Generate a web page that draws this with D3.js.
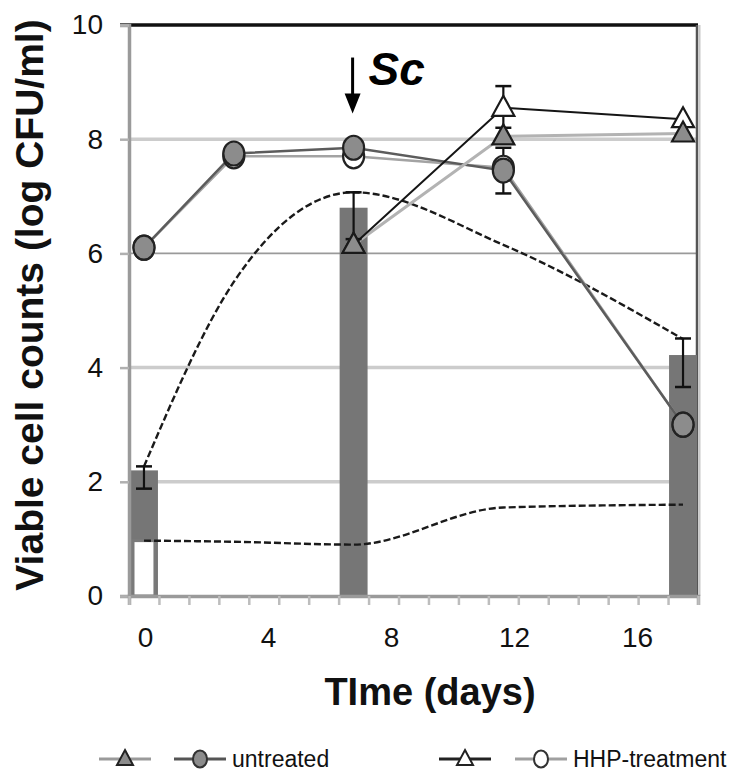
<!DOCTYPE html>
<html>
<head>
<meta charset="utf-8">
<script src="https://cdn.jsdelivr.net/npm/d3@7"></script>
<style>
    body { margin: 0; background: #fff; }
    svg { display: block; font-family: "Liberation Sans", Arial, sans-serif; }
</style>
</head>
<body>
<div id="chart"></div>
<script>
// time points (days)
const days = [0, 3, 7, 12, 18];
const untreatedCircle = [6.1, 7.75, 7.85, 7.45, 3.0];
const hhpCircle = [6.1, 7.7, 7.7, 7.5, 3.0];

const triDays = [7, 12, 18];
const untreatedTri = [6.15, 8.05, 8.1];
const hhpTri = [6.15, 8.55, 8.35];

// bars
const barDays = [0, 7, 18];
const barValues = [2.2, 6.8, 4.22];
const barErrLow = [1.88, 6.25, 3.66];
const barErrHigh = [2.27, 7.07, 4.51];
const openBarDays = [0];
const openBarValues = [0.97];

// error bars on line points (day 12)
const pointErrDays = [12, 12];
const pointErrLow = [8.2, 7.05];
const pointErrHigh = [8.93, 7.85];

// dashed smooth curves
const curveDays = [0, 3, 7, 12, 18];
const upperCurve = [2.27, 5.5, 7.07, 6.15, 4.5];
const lowerCurve = [0.97, 0.95, 0.9, 1.55, 1.6];

const yTicks = [0, 2, 4, 6, 8, 10];
const xTickLabels = [0, 4, 8, 12, 16];

document.addEventListener("DOMContentLoaded", function() {
    const width = 741;
    const height = 773;

    const svg = d3.select("#chart")
        .append("svg")
        .attr("width", width)
        .attr("height", height);

    const x = d3.scaleLinear().domain([-0.5, 18.5]).range([129, 698]);
    const xLabel = d3.scaleLinear().domain([0, 16]).range([145, 637]);
    const y = d3.scaleLinear().domain([0, 10]).range([596, 25]);

    drawFrame(svg, x, y);
    drawBars(svg, x, y);
    drawCurves(svg, x, y);
    drawSeries(svg, x, y);
    drawAxes(svg, x, xLabel, y);
    drawAnnotation(svg, x, y);
    drawLegend(svg);
});

function drawFrame(svg, x, y) {
    const grid = svg.append("g").attr("class", "grid");
    grid.selectAll("line")
        .data([2, 4, 6, 8])
        .join("line")
        .attr("x1", x(-0.5))
        .attr("x2", x(18.5))
        .attr("y1", d => y(d))
        .attr("y2", d => y(d))
        .attr("stroke", d => d === 6 ? "#9a9a9a" : "#cccccc")
        .attr("stroke-width", d => d === 6 ? 1.6 : 3.5);

    // top border and right border
    svg.append("line")
        .attr("x1", x(-0.5) - 9).attr("x2", x(18.5))
        .attr("y1", y(10)).attr("y2", y(10))
        .attr("stroke", "#111").attr("stroke-width", 3.5);
    svg.append("line")
        .attr("x1", x(18.5) - 1).attr("x2", x(18.5) - 1)
        .attr("y1", y(10)).attr("y2", y(0))
        .attr("stroke", "#555").attr("stroke-width", 2.5);
    svg.append("line")
        .attr("x1", x(18.5) + 1.5).attr("x2", x(18.5) + 1.5)
        .attr("y1", y(10)).attr("y2", y(0))
        .attr("stroke", "#c8c8c8").attr("stroke-width", 2);
}

function drawBars(svg, x, y) {
    const bw = x(0.5) - x(-0.5) - 2;
    const bars = svg.append("g").attr("class", "bars");

    bars.selectAll("rect")
        .data(barDays.map((d, i) => ({ day: d, value: barValues[i] })))
        .join("rect")
        .attr("x", d => x(d.day) - bw / 2)
        .attr("width", bw)
        .attr("y", d => y(d.value))
        .attr("height", d => y(0) - y(d.value))
        .attr("fill", "#767676");

    bars.selectAll("rect.open")
        .data(openBarDays.map((d, i) => ({ day: d, value: openBarValues[i] })))
        .join("rect")
        .attr("class", "open")
        .attr("x", d => x(d.day) - bw / 2 + 3)
        .attr("width", bw - 6)
        .attr("y", d => y(d.value))
        .attr("height", d => y(0) - y(d.value))
        .attr("fill", "#fff")
        .attr("stroke", "#7a7a7a")
        .attr("stroke-width", 3);
}

function drawCurves(svg, x, y) {
    const line = d3.line()
        .x(d => x(d[0]))
        .y(d => y(d[1]))
        .curve(d3.curveMonotoneX);

    svg.append("g").attr("class", "curves")
        .selectAll("path")
        .data([
            curveDays.map((d, i) => [d, upperCurve[i]]),
            curveDays.map((d, i) => [d, lowerCurve[i]])
        ])
        .join("path")
        .attr("d", line)
        .attr("fill", "none")
        .attr("stroke", "#1a1a1a")
        .attr("stroke-width", 2.4)
        .attr("stroke-dasharray", "7,3");
}

function errorBar(g, x, y, day, lo, hi) {
    g.append("line")
        .attr("x1", x(day)).attr("x2", x(day))
        .attr("y1", y(lo)).attr("y2", y(hi))
        .attr("stroke", "#111").attr("stroke-width", 2.2);
    [lo, hi].forEach(v => {
        g.append("line")
            .attr("x1", x(day) - 8).attr("x2", x(day) + 8)
            .attr("y1", y(v)).attr("y2", y(v))
            .attr("stroke", "#111").attr("stroke-width", 2.5);
    });
}

function triPath(cx, cy) {
    return `M${cx},${cy - 12}L${cx + 11},${cy + 8}L${cx - 11},${cy + 8}Z`;
}

function drawSeries(svg, x, y) {
    const line = d3.line().x(d => x(d[0])).y(d => y(d[1]));
    const g = svg.append("g").attr("class", "series");

    const series = [
        { days: days, values: hhpCircle, line: "#a3a3a3", lw: 2.5, shape: "circle", fill: "#fff" },
        { days: days, values: untreatedCircle, line: "#5c5c5c", lw: 2.5, shape: "circle", fill: "#8c8c8c" },
        { days: triDays, values: untreatedTri, line: "#b3b3b3", lw: 3, shape: "tri", fill: "#8c8c8c" },
        { days: triDays, values: hhpTri, line: "#151515", lw: 2, shape: "tri", fill: "#fff" }
    ];

    series.forEach(s => {
        g.append("path")
            .attr("d", line(s.days.map((d, i) => [d, s.values[i]])))
            .attr("fill", "none")
            .attr("stroke", s.line)
            .attr("stroke-width", s.lw);
    });

    const eg = g.append("g").attr("class", "errors");
    barDays.forEach((d, i) => errorBar(eg, x, y, d, barErrLow[i], barErrHigh[i]));
    pointErrDays.forEach((d, i) => errorBar(eg, x, y, d, pointErrLow[i], pointErrHigh[i]));

    [series[3], series[2], series[0], series[1]].forEach(s => {
        const pts = s.days.map((d, i) => ({ day: d, value: s.values[i] }));
        if (s.shape === "circle") {
            g.append("g").selectAll("ellipse")
                .data(pts)
                .join("ellipse")
                .attr("cx", d => x(d.day))
                .attr("cy", d => y(d.value))
                .attr("rx", 10.5)
                .attr("ry", 12)
                .attr("fill", s.fill)
                .attr("stroke", "#222")
                .attr("stroke-width", 2.2);
        } else {
            g.append("g").selectAll("path")
                .data(pts)
                .join("path")
                .attr("d", d => triPath(x(d.day), y(d.value)))
                .attr("fill", s.fill)
                .attr("stroke", "#1a1a1a")
                .attr("stroke-width", 2.2);
        }
    });
}

function drawAxes(svg, x, xLabel, y) {
    const yAxis = svg.append("g")
        .attr("transform", `translate(${x(-0.5)},0)`)
        .call(d3.axisLeft(y).tickValues(yTicks).tickSize(9).tickPadding(17));
    yAxis.select(".domain").attr("stroke", "#9a9a9a").attr("stroke-width", 3.5);
    yAxis.selectAll(".tick line").attr("stroke", "#b0b0b0").attr("stroke-width", 2.5);
    yAxis.selectAll("text").attr("font-size", 28).attr("fill", "#111");

    const xAxis = svg.append("g")
        .attr("transform", `translate(0,${y(0)})`)
        .call(d3.axisBottom(x).tickValues(d3.range(-0.5, 19, 1)).tickSize(9).tickFormat(""));
    xAxis.select(".domain").attr("stroke", "#9a9a9a").attr("stroke-width", 3.5);
    xAxis.selectAll(".tick line").attr("stroke", "#bdbdbd").attr("stroke-width", 2.5);

    const xLab = svg.append("g")
        .attr("transform", `translate(0,${y(0) + 31})`)
        .call(d3.axisBottom(xLabel).tickValues(xTickLabels).tickSize(0).tickPadding(0));
    xLab.select(".domain").remove();
    xLab.selectAll("text").attr("font-size", 28).attr("fill", "#111");

    svg.append("text")
        .attr("x", 430)
        .attr("y", 705)
        .attr("text-anchor", "middle")
        .attr("font-size", 38)
        .attr("font-weight", "bold")
        .attr("fill", "#111")
        .text("TIme (days)");

    svg.append("text")
        .attr("transform", "translate(43,305) rotate(-90)")
        .attr("text-anchor", "middle")
        .attr("font-size", 39)
        .attr("font-weight", "bold")
        .attr("fill", "#111")
        .text("Viable cell counts (log CFU/ml)");
}

function drawAnnotation(svg, x, y) {
    const ax = x(7) - 1;
    svg.append("line")
        .attr("x1", ax).attr("x2", ax)
        .attr("y1", y(9.43)).attr("y2", y(8.75))
        .attr("stroke", "#000").attr("stroke-width", 3);
    svg.append("path")
        .attr("d", `M${ax - 8},${y(8.8)}L${ax + 8},${y(8.8)}L${ax},${y(8.45)}Z`)
        .attr("fill", "#000");
    svg.append("text")
        .attr("x", ax + 16)
        .attr("y", y(8.95))
        .attr("font-size", 46)
        .attr("font-weight", "bold")
        .attr("font-style", "italic")
        .attr("fill", "#000")
        .text("Sc");
}

function drawLegend(svg) {
    const items = [
        { cx: 125, shape: "tri", fill: "#8c8c8c", line: "#9a9a9a", label: "" },
        { cx: 200, shape: "circle", fill: "#8c8c8c", line: "#555", label: "untreated" },
        { cx: 465, shape: "tri", fill: "#fff", line: "#222", label: "" },
        { cx: 541, shape: "circle", fill: "#fff", line: "#a0a0a0", label: "HHP-treatment" }
    ];
    const ly = 759;
    const lg = svg.append("g").attr("class", "legend");

    items.forEach(it => {
        lg.append("line")
            .attr("x1", it.cx - 26).attr("x2", it.cx + 26)
            .attr("y1", ly).attr("y2", ly)
            .attr("stroke", it.line).attr("stroke-width", 3);
        if (it.shape === "circle") {
            lg.append("ellipse")
                .attr("cx", it.cx).attr("cy", ly)
                .attr("rx", 7).attr("ry", 8.5)
                .attr("fill", it.fill)
                .attr("stroke", "#333").attr("stroke-width", 2);
        } else {
            lg.append("path")
                .attr("d", `M${it.cx},${ly - 9}L${it.cx + 8},${ly + 6}L${it.cx - 8},${ly + 6}Z`)
                .attr("fill", it.fill)
                .attr("stroke", "#222").attr("stroke-width", 2);
        }
        if (it.label) {
            lg.append("text")
                .attr("x", it.cx + 32)
                .attr("y", ly + 8)
                .attr("font-size", 23)
                .attr("fill", "#111")
                .text(it.label);
        }
    });
}
</script>
</body>
</html>
